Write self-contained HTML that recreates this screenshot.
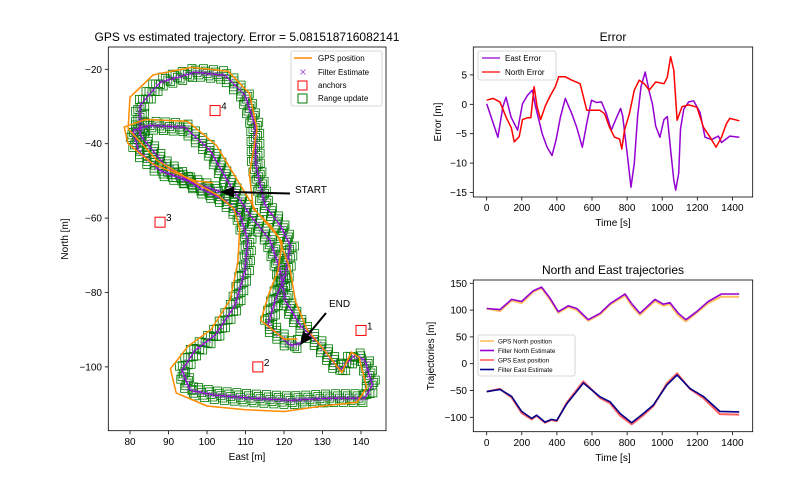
<!DOCTYPE html>
<html><head><meta charset="utf-8">
<style>
body{margin:0;background:#fff;}
svg{display:block;font-family:"Liberation Sans","DejaVu Sans",sans-serif;}
</style></head>
<body>
<svg id="fig" width="792" height="504" viewBox="0 0 792 504"></svg>
<script>
// ---------- data ----------
const filterEast=[103.9,98.2,87.8,82.1,80.8,85.2,94.3,100.8,106.0,111.2,116.4,119.0,120.3,124.2,129.4,134.5,138.4,141.0,142.9,141.0,131.9,121.6,111.2,102.1,95.6,93.5,96.9,102.1,107.3,109.9,110.6,108.6,104.7,98.2,89.1,82.6,82.6,87.8,96.9,104.7,109.9,112.5,112.7,115.1,119.0,121.6,120.3,117.7,115.8,121.6,124.2];
const filterNorth=[-53.1,-51.2,-47.2,-41.8,-36.4,-35.1,-35.6,-41.8,-51.2,-59.2,-66.0,-74.0,-82.1,-88.8,-94.2,-100.9,-96.9,-98.2,-104.9,-108.4,-108.4,-109.0,-108.4,-107.6,-106.3,-100.9,-95.5,-91.5,-83.4,-74.0,-66.0,-59.2,-55.2,-52.0,-45.8,-37.7,-29.7,-23.5,-20.8,-21.6,-27.0,-35.1,-45.8,-56.6,-61.9,-67.3,-75.4,-82.1,-88.8,-94.2,-93.7];
const gpsEast=[101.5,97.0,86.0,79.5,78.5,84.0,95.0,102.5,108.0,113.0,118.5,121.5,123.0,126.0,130.5,135.0,137.5,139.5,141.5,139.0,130.0,120.0,110.0,100.0,92.0,90.5,95.0,101.0,106.0,108.0,108.5,107.0,103.0,97.0,87.0,79.5,80.0,86.0,96.0,105.5,111.0,113.0,111.0,112.0,116.5,119.5,118.5,116.0,114.0,120.0,123.5];
const gpsNorth=[-50.5,-50.0,-45.5,-40.0,-35.5,-33.5,-34.0,-40.5,-50.0,-58.5,-65.0,-73.5,-82.5,-90.0,-95.5,-101.5,-96.0,-97.5,-105.5,-109.5,-110.5,-112.0,-111.5,-110.5,-107.0,-100.5,-94.5,-90.0,-82.0,-72.0,-63.0,-57.5,-54.0,-50.5,-44.5,-36.0,-27.5,-21.5,-19.5,-20.5,-26.5,-36.0,-48.0,-57.5,-62.0,-66.5,-74.0,-80.5,-87.5,-92.5,-92.5];
const anchorEast=[140.0,113.2,87.8,102.1];
const anchorNorth=[-90.2,-100.0,-61.1,-31.1];
const anchorLabels=["1","2","3","4"];

const eastErrT=[0,64,92,110,139,176,204,232,260,279,316,344,372,395,420,448,485,513,545,570,597,625,654,682,710,738,763,775,803,822,841,860,879,903,926,945,963,987,1010,1029,1048,1066,1077,1094,1104,1123,1151,1179,1216,1244,1282,1320,1338,1385,1440];
const eastErrV=[0.1,-5.6,-0.5,1.2,-2.2,-4.4,0.1,1.5,2.4,-0.5,-5.0,-7.3,-8.7,-6.1,-2.2,1.0,-1.6,-3.9,-7.3,-3.3,0.7,0.3,0.4,-1.6,-4.4,-2.4,-0.7,-2.0,-9.0,-14.1,-10.0,-2.1,3.0,5.5,2.2,0.0,-3.7,-5.6,-2.6,-2.1,-7.7,-12.9,-14.6,-11.7,-4.2,-0.8,0.4,0.6,-1.4,-5.6,-6.0,-5.4,-6.5,-5.4,-5.6];
const northErrT=[0,37,75,112,140,157,185,204,232,251,270,288,307,335,363,391,410,447,485,532,551,570,607,644,672,700,728,757,770,785,813,841,869,898,926,963,1010,1029,1048,1066,1085,1113,1151,1198,1235,1273,1307,1338,1366,1385,1440];
const northErrV=[0.7,1.0,0.4,-2.3,-4.0,-6.4,-5.5,-2.6,-2.3,-2.3,3.0,-0.5,-2.6,-0.2,1.5,3.0,4.7,4.7,4.1,3.5,1.3,-1.0,-1.0,-1.0,-1.6,-3.9,-5.6,-5.9,-7.6,-4.4,-1.6,2.4,4.1,3.5,2.4,3.8,3.5,4.6,8.1,5.8,-2.7,-0.4,-0.1,-0.5,-3.9,-5.6,-7.3,-5.6,-3.3,-2.4,-2.8];

const trajT=[0,76,142,199,265,313,361,408,465,513,579,646,703,788,826,873,959,1006,1044,1092,1135,1196,1262,1338,1439];
const filterNorthTraj=[103,101,120,116,136,143,122,97,108,103,82,94,112,130,112,94,120,111,114,94,82,97,116,130,130];
const gpsNorthTraj=[103,98,118,113,134,141,119,95,106,100,80,92,110,127,108,91,117,108,111,90,79,95,113,125,125];
const eastT=[0,76,142,199,256,285,332,370,399,456,551,646,703,760,826,893,950,1026,1085,1158,1234,1329,1439];
const filterEastTraj=[-52,-48,-61,-89,-102,-96,-109,-104,-106,-75,-36,-62,-71,-93,-110,-93,-77,-40,-21,-46,-61,-89,-90];
const gpsEastTraj=[-52,-47,-63,-92,-104,-97,-110,-105,-107,-73,-33,-64,-74,-97,-113,-96,-79,-37,-18,-47,-64,-94,-95];

const errXTicks=[0,200,400,600,800,1000,1200,1400];
const errYTicks=[5,0,-5,-10,-15];
const trajYTicks=[150,100,50,0,-50,-100];
const mapXTicks=[80,90,100,110,120,130,140];
const mapYTicks=[-20,-40,-60,-80,-100];

// ---------- helpers ----------
const NS="http://www.w3.org/2000/svg";
const svg=document.getElementById('fig');
function mk(tag,attrs,parent){const e=document.createElementNS(NS,tag);for(const k in attrs)e.setAttribute(k,attrs[k]);(parent||svg).appendChild(e);return e;}
function txt(s,x,y,size,anchor,parent,extra){const t=mk('text',Object.assign({x:x,y:y,'font-size':size,'text-anchor':anchor||'middle',fill:'#000'},extra||{}),parent);t.textContent=s;return t;}

const mapX=v=>130+(v-80)*3.85, mapY=v=>69.3+(-20-v)*3.72;
const errX=t=>486.7+t*0.1755, errY=v=>104.3-v*5.88;
const trX=t=>486.7+t*0.1755, trY=v=>363.7-v*0.536;

function frame(x0,y0,x1,y1,name){
  const r=mk('rect',{x:x0,y:y0,width:x1-x0,height:y1-y0,fill:'none',stroke:'#000','stroke-width':0.8});
  
}
function poly(xs,ys,fx,fy,color,w,name,parent){
  let d=xs.map((v,i)=>(i?'L':'M')+fx(v).toFixed(1)+','+fy(ys[i]).toFixed(1)).join('');
  const p=mk('path',{d:d,fill:'none',stroke:color,'stroke-width':w,'stroke-linejoin':'round'},parent);
  return p;
}

// ---------- map plot ----------
const gMap=mk('g',{});

const clip=mk('clipPath',{id:'cm'});mk('rect',{x:108.3,y:47,width:277.7,height:383.7},clip);
const gPlot=mk('g',{'clip-path':'url(#cm)'},gMap);
const gSq=mk('g',{},gPlot);

const gX=mk('g',{},gPlot);
let k=0;
for(let i=0;i<filterEast.length-1;i++){
  const ax=mapX(filterEast[i]),ay=mapY(filterNorth[i]),bx=mapX(filterEast[i+1]),by=mapY(filterNorth[i+1]);
  const L=Math.hypot(bx-ax,by-ay),n=Math.max(1,Math.round(L/2));
  const nx=-(by-ay)/L,ny=(bx-ax)/L;
  for(let j=0;j<n;j++){
    const f=j/n,px=ax+(bx-ax)*f,py=ay+(by-ay)*f,o=((k%5)-2)*2.2;k++;
    mk('rect',{x:(px+nx*o-4).toFixed(1),y:(py+ny*o-4).toFixed(1),width:8,height:8,fill:'none',stroke:'#007a00','stroke-width':0.8},gSq);
    if(k%3==0){const cx=px,cy=py;mk('path',{d:`M${cx-2.5},${cy-2.5}L${cx+2.5},${cy+2.5}M${cx-2.5},${cy+2.5}L${cx+2.5},${cy-2.5}`,stroke:'#a040e0','stroke-width':0.8},gX);}
  }
}
poly(filterEast,filterNorth,mapX,mapY,'#9400d3',1,'filter-estimate-line',gPlot);
poly(gpsEast,gpsNorth,mapX,mapY,'#ff8c00',1.5,'gps-position-line',gPlot);
anchorEast.forEach((v,i)=>{
  const r=mk('rect',{x:mapX(v)-5,y:mapY(anchorNorth[i])-5,width:10,height:10,fill:'none',stroke:'red','stroke-width':1},gMap);
  
  const t=txt(anchorLabels[i],mapX(v)+6,mapY(anchorNorth[i])-1,10,'start',gMap);
  
});
mk('line',{x1:290,y1:193.5,x2:232,y2:192,stroke:'#000','stroke-width':2},gMap);
mk('path',{d:'M220,192 L234,186.5 L234,197.5 Z',fill:'#000'},gMap);
mk('line',{x1:326,y1:313,x2:307,y2:336,stroke:'#000','stroke-width':2},gMap);
mk('path',{d:'M300,345 L303,331 L312,338.5 Z',fill:'#000'},gMap);
const st=txt('START',295,193,10,'start',gMap);
const en=txt('END',329,307,10,'start',gMap);
frame(108.3,47,386,430.7,'map-axes-frame');
mapXTicks.forEach(v=>{const x=mapX(v);mk('line',{x1:x,y1:430.7,x2:x,y2:434.2,stroke:'#000','stroke-width':0.8});const t=txt(String(v),x,445,10);});
mapYTicks.forEach(v=>{const y=mapY(v);mk('line',{x1:104.8,y1:y,x2:108.3,y2:y,stroke:'#000','stroke-width':0.8});const t=txt('\u2212'+Math.abs(v),102,y+3.5,10,'end');});
let t=txt('East [m]',247,460,10);
t=txt('North [m]',0,0,10,'middle',svg,{transform:'translate(68,239) rotate(-90)'});
t=txt('GPS vs estimated trajectory. Error = 5.081518716082141',247,41,12);
const lg=mk('g',{});
mk('rect',{x:291,y:51,width:91,height:55,rx:2,fill:'#fff','fill-opacity':0.85,stroke:'#ccc','stroke-width':0.8},lg);
mk('line',{x1:294,y1:58,x2:312,y2:58,stroke:'#ff8c00','stroke-width':1.5},lg);
mk('path',{d:'M300.5,69.5L305.5,74.5M300.5,74.5L305.5,69.5',stroke:'#a040e0','stroke-width':0.8},lg);
mk('rect',{x:298,y:81,width:9,height:9,fill:'none',stroke:'red'},lg);
mk('rect',{x:298,y:94,width:9,height:9,fill:'none',stroke:'#007a00'},lg);
[['GPS position',61],['Filter Estimate',75],['anchors',88],['Range update',101]].forEach(a=>{const e=txt(a[0],318,a[1],8,'start',lg);});

// ---------- error plot ----------
const gE=mk('g',{});
poly(eastErrT,eastErrV,errX,errY,'#9400d3',1.5,'east-error-line',gE);
poly(northErrT,northErrV,errX,errY,'red',1.5,'north-error-line',gE);
frame(473.3,47,752.7,197,'error-axes-frame');
errXTicks.forEach(v=>{const x=errX(v);mk('line',{x1:x,y1:197,x2:x,y2:200.5,stroke:'#000','stroke-width':0.8});const e=txt(String(v),x,211,10);});
errYTicks.forEach(v=>{const y=errY(v);mk('line',{x1:469.8,y1:y,x2:473.3,y2:y,stroke:'#000','stroke-width':0.8});const e=txt(v<0?'\u2212'+Math.abs(v):String(v),467,y+3.5,10,'end');});
t=txt('Time [s]',613,226,10);
t=txt('Error [m]',0,0,10,'middle',svg,{transform:'translate(441,122) rotate(-90)'});
t=txt('Error',613,41,12);
const le=mk('g',{});
mk('rect',{x:478,y:51,width:78,height:29,rx:2,fill:'#fff','fill-opacity':0.85,stroke:'#ccc','stroke-width':0.8},le);
mk('line',{x1:482,y1:58,x2:500,y2:58,stroke:'#9400d3','stroke-width':1.2},le);
mk('line',{x1:482,y1:72,x2:500,y2:72,stroke:'red','stroke-width':1.2},le);
[['East Error',61],['North Error',75]].forEach(a=>{const e=txt(a[0],505,a[1],8,'start',le);});

// ---------- trajectories plot ----------
const gT=mk('g',{});
poly(trajT,gpsNorthTraj,trX,trY,'#ffc060',2,'gps-north-line',gT);
poly(trajT,filterNorthTraj,trX,trY,'#9400d3',1.6,'filter-north-line',gT);
poly(eastT,gpsEastTraj,trX,trY,'#ff6060',2,'gps-east-line',gT);
poly(eastT,filterEastTraj,trX,trY,'#00008b',1.6,'filter-east-line',gT);
frame(473.3,280,752.7,431.7,'trajectories-axes-frame');
errXTicks.forEach(v=>{const x=trX(v);mk('line',{x1:x,y1:431.7,x2:x,y2:435.2,stroke:'#000','stroke-width':0.8});const e=txt(String(v),x,446,10);});
trajYTicks.forEach(v=>{const y=trY(v);mk('line',{x1:469.8,y1:y,x2:473.3,y2:y,stroke:'#000','stroke-width':0.8});const e=txt(v<0?'\u2212'+Math.abs(v):String(v),467,y+3.5,10,'end');});
t=txt('Time [s]',613,461,10);
t=txt('Trajectories [m]',0,0,10,'middle',svg,{transform:'translate(434,356) rotate(-90)'});
t=txt('North and East trajectories',613,274,12);
const lt=mk('g',{});
mk('rect',{x:478,y:335,width:97,height:41,rx:2,fill:'#fff','fill-opacity':0.85,stroke:'#ccc','stroke-width':0.8},lt);
[['GPS North position','#ffc060',341],['Filter North Estimate','#9400d3',350.5],['GPS East position','#ff6060',360],['Filter East Estimate','#00008b',369.5]].forEach(a=>{
  mk('line',{x1:480,y1:a[2],x2:494,y2:a[2],stroke:a[1],'stroke-width':1.6},lt);
  const e=txt(a[0],498,a[2]+2.3,6.3,'start',lt);
});
</script>
</body></html>
